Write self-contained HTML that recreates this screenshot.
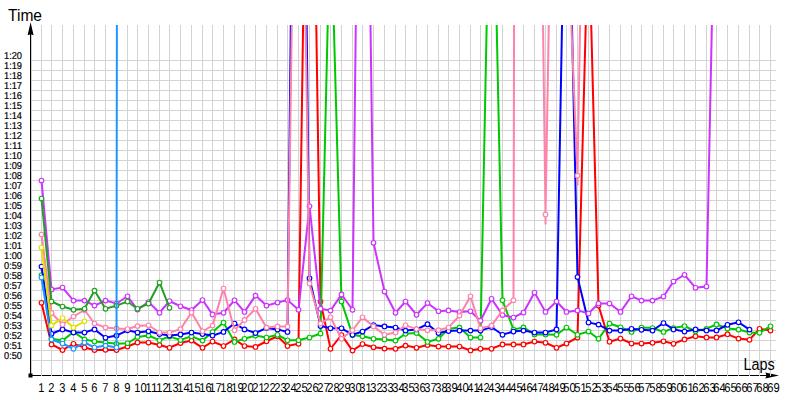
<!DOCTYPE html>
<html><head><meta charset="utf-8"><title>Lap chart</title>
<style>
html,body{margin:0;padding:0;background:#fff;}
body{width:800px;height:400px;overflow:hidden;font-family:"Liberation Sans",sans-serif;}
svg{display:block;}
svg text{font-family:"Liberation Sans",sans-serif;fill:#000;}
.xl text{text-rendering:geometricPrecision;}
.yl text{stroke:#000;stroke-width:0.2px;text-rendering:geometricPrecision;}
</style></head><body>
<svg width="800" height="400" viewBox="0 0 800 400">
<rect width="800" height="400" fill="#fff"/>
<defs><clipPath id="plot"><rect x="30" y="25" width="760" height="352"/></clipPath></defs>
<path d="M30.6 30V375.5" stroke="#000" stroke-width="1.2" fill="none"/><path d="M30 375.5H770" stroke="#000" stroke-width="1" fill="none" shape-rendering="crispEdges"/>
<path d="M30.6 22.3L33.6 35.3L30.6 34.2L27.6 35.3Z" fill="#000"/>
<path d="M779 375.5L765.3 378.5L766.6 375.5L765.3 372.5Z" fill="#000"/>
<rect x="28.5" y="373.5" width="4" height="4" fill="#000"/>
<path d="M41.50 25V376M51.50 25V376M62.50 25V376M73.50 25V376M84.50 25V376M94.50 25V376M105.50 25V376M116.50 25V376M127.50 25V376M137.50 25V376M148.50 25V376M159.50 25V376M169.50 25V376M180.50 25V376M191.50 25V376M202.50 25V376M212.50 25V376M223.50 25V376M234.50 25V376M244.50 25V376M255.50 25V376M266.50 25V376M277.50 25V376M287.50 25V376M298.50 25V376M309.50 25V376M320.50 25V376M330.50 25V376M341.50 25V376M352.50 25V376M362.50 25V376M373.50 25V376M384.50 25V376M395.50 25V376M405.50 25V376M416.50 25V376M427.50 25V376M438.50 25V376M448.50 25V376M459.50 25V376M470.50 25V376M480.50 25V376M491.50 25V376M502.50 25V376M513.50 25V376M523.50 25V376M534.50 25V376M545.50 25V376M556.50 25V376M566.50 25V376M577.50 25V376M588.50 25V376M598.50 25V376M609.50 25V376M620.50 25V376M631.50 25V376M641.50 25V376M652.50 25V376M663.50 25V376M673.50 25V376M684.50 25V376M695.50 25V376M706.50 25V376M716.50 25V376M727.50 25V376M738.50 25V376M749.50 25V376M759.50 25V376M770.50 25V376M31 60.5H776M31 70.5H776M31 80.5H776M31 90.5H776M31 100.5H776M31 110.5H776M31 120.5H776M31 130.5H776M31 140.5H776M31 150.5H776M31 160.5H776M31 170.5H776M31 180.5H776M31 190.5H776M31 200.5H776M31 210.5H776M31 220.5H776M31 230.5H776M31 240.5H776M31 250.5H776M31 260.5H776M31 270.5H776M31 280.5H776M31 290.5H776M31 300.5H776M31 310.5H776M31 320.5H776M31 330.5H776M31 340.5H776M31 350.5H776M31 360.5H776" stroke="#d3d3d3" stroke-width="1" fill="none" shape-rendering="crispEdges"/>
<g clip-path="url(#plot)" fill="none" stroke-linejoin="miter" stroke-miterlimit="10" stroke-linecap="butt">
<polyline points="41.50,302.75 51.50,344.40 62.50,350.00 73.50,343.75 84.50,347.50 94.50,350.00 105.50,349.75 116.50,350.00 127.50,346.50 137.50,342.50 148.50,342.50 159.50,345.00 169.50,347.75 180.50,343.00 191.50,340.60 202.50,347.75 212.50,341.50 223.50,346.00 234.50,339.40 244.50,346.00 255.50,346.90 266.50,341.25 277.50,336.25 287.50,346.00 298.50,343.75 309.50,-420.00 320.50,301.50 330.50,348.75 341.50,335.00 352.50,350.60 362.50,344.00 373.50,347.25 384.50,348.60 395.50,348.75 405.50,345.60 416.50,347.75 427.50,345.00 438.50,346.50 448.50,346.50 459.50,346.50 470.50,350.40 480.50,348.75 491.50,348.75 502.50,344.40 513.50,344.40 523.50,344.40 534.50,341.50 545.50,342.75 556.50,347.75 566.50,343.50 577.50,337.50 588.50,-80.00 598.50,305.60 609.50,341.70 620.50,338.50 631.50,343.50 641.50,343.50 652.50,342.75 663.50,341.25 673.50,343.75 684.50,339.40 695.50,336.25 706.50,337.40 716.50,337.40 727.50,334.20 738.50,338.60 749.50,339.75 759.50,328.75 770.50,330.60" stroke="#ff0000" stroke-width="2.00"/>
<g fill="#fff" stroke="#ff0000" stroke-width="1.15"><circle cx="41.50" cy="302.75" r="2.30"/><circle cx="51.50" cy="344.40" r="2.30"/><circle cx="62.50" cy="350.00" r="2.30"/><circle cx="73.50" cy="343.75" r="2.30"/><circle cx="84.50" cy="347.50" r="2.30"/><circle cx="94.50" cy="350.00" r="2.30"/><circle cx="105.50" cy="349.75" r="2.30"/><circle cx="116.50" cy="350.00" r="2.30"/><circle cx="127.50" cy="346.50" r="2.30"/><circle cx="137.50" cy="342.50" r="2.30"/><circle cx="148.50" cy="342.50" r="2.30"/><circle cx="159.50" cy="345.00" r="2.30"/><circle cx="169.50" cy="347.75" r="2.30"/><circle cx="180.50" cy="343.00" r="2.30"/><circle cx="191.50" cy="340.60" r="2.30"/><circle cx="202.50" cy="347.75" r="2.30"/><circle cx="212.50" cy="341.50" r="2.30"/><circle cx="223.50" cy="346.00" r="2.30"/><circle cx="234.50" cy="339.40" r="2.30"/><circle cx="244.50" cy="346.00" r="2.30"/><circle cx="255.50" cy="346.90" r="2.30"/><circle cx="266.50" cy="341.25" r="2.30"/><circle cx="277.50" cy="336.25" r="2.30"/><circle cx="287.50" cy="346.00" r="2.30"/><circle cx="298.50" cy="343.75" r="2.30"/><circle cx="320.50" cy="301.50" r="2.30"/><circle cx="330.50" cy="348.75" r="2.30"/><circle cx="341.50" cy="335.00" r="2.30"/><circle cx="352.50" cy="350.60" r="2.30"/><circle cx="362.50" cy="344.00" r="2.30"/><circle cx="373.50" cy="347.25" r="2.30"/><circle cx="384.50" cy="348.60" r="2.30"/><circle cx="395.50" cy="348.75" r="2.30"/><circle cx="405.50" cy="345.60" r="2.30"/><circle cx="416.50" cy="347.75" r="2.30"/><circle cx="427.50" cy="345.00" r="2.30"/><circle cx="438.50" cy="346.50" r="2.30"/><circle cx="448.50" cy="346.50" r="2.30"/><circle cx="459.50" cy="346.50" r="2.30"/><circle cx="470.50" cy="350.40" r="2.30"/><circle cx="480.50" cy="348.75" r="2.30"/><circle cx="491.50" cy="348.75" r="2.30"/><circle cx="502.50" cy="344.40" r="2.30"/><circle cx="513.50" cy="344.40" r="2.30"/><circle cx="523.50" cy="344.40" r="2.30"/><circle cx="534.50" cy="341.50" r="2.30"/><circle cx="545.50" cy="342.75" r="2.30"/><circle cx="556.50" cy="347.75" r="2.30"/><circle cx="566.50" cy="343.50" r="2.30"/><circle cx="577.50" cy="337.50" r="2.30"/><circle cx="598.50" cy="305.60" r="2.30"/><circle cx="609.50" cy="341.70" r="2.30"/><circle cx="620.50" cy="338.50" r="2.30"/><circle cx="631.50" cy="343.50" r="2.30"/><circle cx="641.50" cy="343.50" r="2.30"/><circle cx="652.50" cy="342.75" r="2.30"/><circle cx="663.50" cy="341.25" r="2.30"/><circle cx="673.50" cy="343.75" r="2.30"/><circle cx="684.50" cy="339.40" r="2.30"/><circle cx="695.50" cy="336.25" r="2.30"/><circle cx="706.50" cy="337.40" r="2.30"/><circle cx="716.50" cy="337.40" r="2.30"/><circle cx="727.50" cy="334.20" r="2.30"/><circle cx="738.50" cy="338.60" r="2.30"/><circle cx="749.50" cy="339.75" r="2.30"/><circle cx="759.50" cy="328.75" r="2.30"/><circle cx="770.50" cy="330.60" r="2.30"/></g>
<polyline points="41.50,275.00 51.50,338.75 62.50,340.60 73.50,332.00 84.50,339.40 94.50,341.50 105.50,342.50 116.50,343.75 127.50,343.25 137.50,337.00 148.50,335.60 159.50,340.25 169.50,336.50 180.50,340.00 191.50,336.25 202.50,340.60 212.50,332.00 223.50,322.50 234.50,341.90 244.50,338.75 255.50,335.60 266.50,337.50 277.50,334.75 287.50,340.25 298.50,340.25 309.50,337.50 320.50,333.50 330.50,-95.00 341.50,301.50 352.50,335.00 362.50,336.25 373.50,338.75 384.50,339.40 395.50,340.60 405.50,333.75 416.50,333.00 427.50,341.90 438.50,338.75 448.50,328.75 459.50,327.60 470.50,337.50 480.50,337.50 491.50,-220.00 502.50,300.25 513.50,329.70 523.50,327.40 534.50,334.40 545.50,334.40 556.50,334.75 566.50,327.50 577.50,334.75 588.50,331.50 598.50,338.75 609.50,323.50 620.50,327.25 631.50,331.90 641.50,327.50 652.50,328.00 663.50,331.90 673.50,328.00 684.50,326.00 695.50,331.25 706.50,328.75 716.50,324.40 727.50,328.50 738.50,329.60 749.50,332.50 759.50,332.75 770.50,326.25" stroke="#00c800" stroke-width="2.00"/>
<g fill="#fff" stroke="#00c800" stroke-width="1.15"><circle cx="41.50" cy="275.00" r="2.30"/><circle cx="51.50" cy="338.75" r="2.30"/><circle cx="62.50" cy="340.60" r="2.30"/><circle cx="73.50" cy="332.00" r="2.30"/><circle cx="84.50" cy="339.40" r="2.30"/><circle cx="94.50" cy="341.50" r="2.30"/><circle cx="105.50" cy="342.50" r="2.30"/><circle cx="116.50" cy="343.75" r="2.30"/><circle cx="127.50" cy="343.25" r="2.30"/><circle cx="137.50" cy="337.00" r="2.30"/><circle cx="148.50" cy="335.60" r="2.30"/><circle cx="159.50" cy="340.25" r="2.30"/><circle cx="169.50" cy="336.50" r="2.30"/><circle cx="180.50" cy="340.00" r="2.30"/><circle cx="191.50" cy="336.25" r="2.30"/><circle cx="202.50" cy="340.60" r="2.30"/><circle cx="212.50" cy="332.00" r="2.30"/><circle cx="223.50" cy="322.50" r="2.30"/><circle cx="234.50" cy="341.90" r="2.30"/><circle cx="244.50" cy="338.75" r="2.30"/><circle cx="255.50" cy="335.60" r="2.30"/><circle cx="266.50" cy="337.50" r="2.30"/><circle cx="277.50" cy="334.75" r="2.30"/><circle cx="287.50" cy="340.25" r="2.30"/><circle cx="298.50" cy="340.25" r="2.30"/><circle cx="309.50" cy="337.50" r="2.30"/><circle cx="320.50" cy="333.50" r="2.30"/><circle cx="341.50" cy="301.50" r="2.30"/><circle cx="352.50" cy="335.00" r="2.30"/><circle cx="362.50" cy="336.25" r="2.30"/><circle cx="373.50" cy="338.75" r="2.30"/><circle cx="384.50" cy="339.40" r="2.30"/><circle cx="395.50" cy="340.60" r="2.30"/><circle cx="405.50" cy="333.75" r="2.30"/><circle cx="416.50" cy="333.00" r="2.30"/><circle cx="427.50" cy="341.90" r="2.30"/><circle cx="438.50" cy="338.75" r="2.30"/><circle cx="448.50" cy="328.75" r="2.30"/><circle cx="459.50" cy="327.60" r="2.30"/><circle cx="470.50" cy="337.50" r="2.30"/><circle cx="480.50" cy="337.50" r="2.30"/><circle cx="502.50" cy="300.25" r="2.30"/><circle cx="513.50" cy="329.70" r="2.30"/><circle cx="523.50" cy="327.40" r="2.30"/><circle cx="534.50" cy="334.40" r="2.30"/><circle cx="545.50" cy="334.40" r="2.30"/><circle cx="556.50" cy="334.75" r="2.30"/><circle cx="566.50" cy="327.50" r="2.30"/><circle cx="577.50" cy="334.75" r="2.30"/><circle cx="588.50" cy="331.50" r="2.30"/><circle cx="598.50" cy="338.75" r="2.30"/><circle cx="609.50" cy="323.50" r="2.30"/><circle cx="620.50" cy="327.25" r="2.30"/><circle cx="631.50" cy="331.90" r="2.30"/><circle cx="641.50" cy="327.50" r="2.30"/><circle cx="652.50" cy="328.00" r="2.30"/><circle cx="663.50" cy="331.90" r="2.30"/><circle cx="673.50" cy="328.00" r="2.30"/><circle cx="684.50" cy="326.00" r="2.30"/><circle cx="695.50" cy="331.25" r="2.30"/><circle cx="706.50" cy="328.75" r="2.30"/><circle cx="716.50" cy="324.40" r="2.30"/><circle cx="727.50" cy="328.50" r="2.30"/><circle cx="738.50" cy="329.60" r="2.30"/><circle cx="749.50" cy="332.50" r="2.30"/><circle cx="759.50" cy="332.75" r="2.30"/><circle cx="770.50" cy="326.25" r="2.30"/></g>
<polyline points="41.50,266.50 51.50,333.75 62.50,329.40 73.50,332.50 84.50,332.50 94.50,329.40 105.50,337.75 116.50,335.60 127.50,330.30 137.50,332.50 148.50,331.25 159.50,334.00 169.50,335.50 180.50,334.40 191.50,332.50 202.50,334.00 212.50,335.60 223.50,331.90 234.50,323.50 244.50,329.40 255.50,333.00 266.50,328.00 277.50,329.40 287.50,331.90 298.50,-700.00 309.50,278.30 320.50,326.00 330.50,328.30 341.50,328.30 352.50,334.75 362.50,331.50 373.50,325.00 384.50,326.40 395.50,327.50 405.50,330.60 416.50,329.40 427.50,324.20 438.50,333.00 448.50,331.00 459.50,330.60 470.50,330.60 480.50,330.60 491.50,327.00 502.50,334.75 513.50,331.50 523.50,330.60 534.50,332.50 545.50,332.50 556.50,329.40 566.50,-224.00 577.50,277.00 588.50,322.50 598.50,324.60 609.50,330.60 620.50,330.60 631.50,328.75 641.50,329.75 652.50,330.60 663.50,323.00 673.50,329.40 684.50,331.50 695.50,329.40 706.50,330.40 716.50,330.40 727.50,324.75 738.50,322.25 749.50,329.60" stroke="#0000ff" stroke-width="2.00"/>
<g fill="#fff" stroke="#0000ff" stroke-width="1.15"><circle cx="41.50" cy="266.50" r="2.30"/><circle cx="51.50" cy="333.75" r="2.30"/><circle cx="62.50" cy="329.40" r="2.30"/><circle cx="73.50" cy="332.50" r="2.30"/><circle cx="84.50" cy="332.50" r="2.30"/><circle cx="94.50" cy="329.40" r="2.30"/><circle cx="105.50" cy="337.75" r="2.30"/><circle cx="116.50" cy="335.60" r="2.30"/><circle cx="127.50" cy="330.30" r="2.30"/><circle cx="137.50" cy="332.50" r="2.30"/><circle cx="148.50" cy="331.25" r="2.30"/><circle cx="159.50" cy="334.00" r="2.30"/><circle cx="169.50" cy="335.50" r="2.30"/><circle cx="180.50" cy="334.40" r="2.30"/><circle cx="191.50" cy="332.50" r="2.30"/><circle cx="202.50" cy="334.00" r="2.30"/><circle cx="212.50" cy="335.60" r="2.30"/><circle cx="223.50" cy="331.90" r="2.30"/><circle cx="234.50" cy="323.50" r="2.30"/><circle cx="244.50" cy="329.40" r="2.30"/><circle cx="255.50" cy="333.00" r="2.30"/><circle cx="266.50" cy="328.00" r="2.30"/><circle cx="277.50" cy="329.40" r="2.30"/><circle cx="287.50" cy="331.90" r="2.30"/><circle cx="309.50" cy="278.30" r="2.30"/><circle cx="320.50" cy="326.00" r="2.30"/><circle cx="330.50" cy="328.30" r="2.30"/><circle cx="341.50" cy="328.30" r="2.30"/><circle cx="352.50" cy="334.75" r="2.30"/><circle cx="362.50" cy="331.50" r="2.30"/><circle cx="373.50" cy="325.00" r="2.30"/><circle cx="384.50" cy="326.40" r="2.30"/><circle cx="395.50" cy="327.50" r="2.30"/><circle cx="405.50" cy="330.60" r="2.30"/><circle cx="416.50" cy="329.40" r="2.30"/><circle cx="427.50" cy="324.20" r="2.30"/><circle cx="438.50" cy="333.00" r="2.30"/><circle cx="448.50" cy="331.00" r="2.30"/><circle cx="459.50" cy="330.60" r="2.30"/><circle cx="470.50" cy="330.60" r="2.30"/><circle cx="480.50" cy="330.60" r="2.30"/><circle cx="491.50" cy="327.00" r="2.30"/><circle cx="502.50" cy="334.75" r="2.30"/><circle cx="513.50" cy="331.50" r="2.30"/><circle cx="523.50" cy="330.60" r="2.30"/><circle cx="534.50" cy="332.50" r="2.30"/><circle cx="545.50" cy="332.50" r="2.30"/><circle cx="556.50" cy="329.40" r="2.30"/><circle cx="577.50" cy="277.00" r="2.30"/><circle cx="588.50" cy="322.50" r="2.30"/><circle cx="598.50" cy="324.60" r="2.30"/><circle cx="609.50" cy="330.60" r="2.30"/><circle cx="620.50" cy="330.60" r="2.30"/><circle cx="631.50" cy="328.75" r="2.30"/><circle cx="641.50" cy="329.75" r="2.30"/><circle cx="652.50" cy="330.60" r="2.30"/><circle cx="663.50" cy="323.00" r="2.30"/><circle cx="673.50" cy="329.40" r="2.30"/><circle cx="684.50" cy="331.50" r="2.30"/><circle cx="695.50" cy="329.40" r="2.30"/><circle cx="706.50" cy="330.40" r="2.30"/><circle cx="716.50" cy="330.40" r="2.30"/><circle cx="727.50" cy="324.75" r="2.30"/><circle cx="738.50" cy="322.25" r="2.30"/><circle cx="749.50" cy="329.60" r="2.30"/></g>
<polyline points="41.50,180.50 51.50,289.40 62.50,287.50 73.50,300.60 84.50,300.60 94.50,305.60 105.50,300.60 116.50,303.50 127.50,296.25 137.50,309.50 148.50,302.00 159.50,312.75 169.50,301.00 180.50,306.25 191.50,310.00 202.50,300.00 212.50,314.40 223.50,312.75 234.50,300.25 244.50,311.90 255.50,295.60 266.50,305.60 277.50,302.50 287.50,300.00 298.50,309.75 309.50,206.25 320.50,308.75 330.50,310.60 341.50,294.40 352.50,309.75 362.50,-559.00 373.50,242.75 384.50,291.50 395.50,312.75 405.50,301.50 416.50,314.75 427.50,303.00 438.50,311.25 448.50,310.40 459.50,312.00 470.50,311.25 480.50,320.80 491.50,298.75 502.50,315.00 513.50,317.50 523.50,312.50 534.50,292.50 545.50,311.90 556.50,301.50 566.50,311.90 577.50,310.40 588.50,313.50 598.50,303.50 609.50,303.50 620.50,311.90 631.50,296.25 641.50,300.60 652.50,300.60 663.50,296.50 673.50,281.50 684.50,274.75 695.50,287.75 706.50,286.50 716.50,-201.00" stroke="#cc33ff" stroke-width="2.00"/>
<g fill="#fff" stroke="#cc33ff" stroke-width="1.15"><circle cx="41.50" cy="180.50" r="2.30"/><circle cx="51.50" cy="289.40" r="2.30"/><circle cx="62.50" cy="287.50" r="2.30"/><circle cx="73.50" cy="300.60" r="2.30"/><circle cx="84.50" cy="300.60" r="2.30"/><circle cx="94.50" cy="305.60" r="2.30"/><circle cx="105.50" cy="300.60" r="2.30"/><circle cx="116.50" cy="303.50" r="2.30"/><circle cx="127.50" cy="296.25" r="2.30"/><circle cx="137.50" cy="309.50" r="2.30"/><circle cx="148.50" cy="302.00" r="2.30"/><circle cx="159.50" cy="312.75" r="2.30"/><circle cx="169.50" cy="301.00" r="2.30"/><circle cx="180.50" cy="306.25" r="2.30"/><circle cx="191.50" cy="310.00" r="2.30"/><circle cx="202.50" cy="300.00" r="2.30"/><circle cx="212.50" cy="314.40" r="2.30"/><circle cx="223.50" cy="312.75" r="2.30"/><circle cx="234.50" cy="300.25" r="2.30"/><circle cx="244.50" cy="311.90" r="2.30"/><circle cx="255.50" cy="295.60" r="2.30"/><circle cx="266.50" cy="305.60" r="2.30"/><circle cx="277.50" cy="302.50" r="2.30"/><circle cx="287.50" cy="300.00" r="2.30"/><circle cx="298.50" cy="309.75" r="2.30"/><circle cx="309.50" cy="206.25" r="2.30"/><circle cx="320.50" cy="308.75" r="2.30"/><circle cx="330.50" cy="310.60" r="2.30"/><circle cx="341.50" cy="294.40" r="2.30"/><circle cx="352.50" cy="309.75" r="2.30"/><circle cx="373.50" cy="242.75" r="2.30"/><circle cx="384.50" cy="291.50" r="2.30"/><circle cx="395.50" cy="312.75" r="2.30"/><circle cx="405.50" cy="301.50" r="2.30"/><circle cx="416.50" cy="314.75" r="2.30"/><circle cx="427.50" cy="303.00" r="2.30"/><circle cx="438.50" cy="311.25" r="2.30"/><circle cx="448.50" cy="310.40" r="2.30"/><circle cx="459.50" cy="312.00" r="2.30"/><circle cx="470.50" cy="311.25" r="2.30"/><circle cx="480.50" cy="320.80" r="2.30"/><circle cx="491.50" cy="298.75" r="2.30"/><circle cx="502.50" cy="315.00" r="2.30"/><circle cx="513.50" cy="317.50" r="2.30"/><circle cx="523.50" cy="312.50" r="2.30"/><circle cx="534.50" cy="292.50" r="2.30"/><circle cx="545.50" cy="311.90" r="2.30"/><circle cx="556.50" cy="301.50" r="2.30"/><circle cx="566.50" cy="311.90" r="2.30"/><circle cx="577.50" cy="310.40" r="2.30"/><circle cx="588.50" cy="313.50" r="2.30"/><circle cx="598.50" cy="303.50" r="2.30"/><circle cx="609.50" cy="303.50" r="2.30"/><circle cx="620.50" cy="311.90" r="2.30"/><circle cx="631.50" cy="296.25" r="2.30"/><circle cx="641.50" cy="300.60" r="2.30"/><circle cx="652.50" cy="300.60" r="2.30"/><circle cx="663.50" cy="296.50" r="2.30"/><circle cx="673.50" cy="281.50" r="2.30"/><circle cx="684.50" cy="274.75" r="2.30"/><circle cx="695.50" cy="287.75" r="2.30"/><circle cx="706.50" cy="286.50" r="2.30"/></g>
<polyline points="41.50,234.50 51.50,313.00 62.50,324.40 73.50,316.50 84.50,310.00 94.50,323.50 105.50,327.60 116.50,328.40 127.50,329.00 137.50,326.10 148.50,325.25 159.50,332.50 169.50,332.50 180.50,329.10 191.50,312.50 202.50,331.25 212.50,325.60 223.50,288.50 234.50,330.30 244.50,319.90 255.50,308.75 266.50,327.60 277.50,326.40 287.50,326.40 298.50,-450.00 309.50,283.40 320.50,323.60 330.50,317.25 341.50,338.75 352.50,330.30 362.50,317.25 373.50,326.40 384.50,334.75 395.50,332.50 405.50,325.25 416.50,329.10 427.50,330.30 438.50,330.10 448.50,327.50 459.50,315.60 470.50,296.25 480.50,328.25 491.50,325.60 502.50,310.40 513.50,300.25 523.50,-4600.00 534.50,-632.00 545.50,214.40 556.50,-420.00 566.50,-93.00 577.50,175.60 588.50,-468.00" stroke="#ff82aa" stroke-width="2.00"/>
<line x1="545.50" y1="214.40" x2="545.48" y2="224.40" stroke="#ff82aa" stroke-width="2.00"/>
<line x1="577.50" y1="175.60" x2="577.62" y2="185.60" stroke="#ff82aa" stroke-width="2.00"/>
<g fill="#fff" stroke="#ff82aa" stroke-width="1.15"><circle cx="41.50" cy="234.50" r="2.30"/><circle cx="51.50" cy="313.00" r="2.30"/><circle cx="62.50" cy="324.40" r="2.30"/><circle cx="73.50" cy="316.50" r="2.30"/><circle cx="84.50" cy="310.00" r="2.30"/><circle cx="94.50" cy="323.50" r="2.30"/><circle cx="105.50" cy="327.60" r="2.30"/><circle cx="116.50" cy="328.40" r="2.30"/><circle cx="127.50" cy="329.00" r="2.30"/><circle cx="137.50" cy="326.10" r="2.30"/><circle cx="148.50" cy="325.25" r="2.30"/><circle cx="159.50" cy="332.50" r="2.30"/><circle cx="169.50" cy="332.50" r="2.30"/><circle cx="180.50" cy="329.10" r="2.30"/><circle cx="191.50" cy="312.50" r="2.30"/><circle cx="202.50" cy="331.25" r="2.30"/><circle cx="212.50" cy="325.60" r="2.30"/><circle cx="223.50" cy="288.50" r="2.30"/><circle cx="234.50" cy="330.30" r="2.30"/><circle cx="244.50" cy="319.90" r="2.30"/><circle cx="255.50" cy="308.75" r="2.30"/><circle cx="266.50" cy="327.60" r="2.30"/><circle cx="277.50" cy="326.40" r="2.30"/><circle cx="287.50" cy="326.40" r="2.30"/><circle cx="309.50" cy="283.40" r="2.30"/><circle cx="320.50" cy="323.60" r="2.30"/><circle cx="330.50" cy="317.25" r="2.30"/><circle cx="341.50" cy="338.75" r="2.30"/><circle cx="352.50" cy="330.30" r="2.30"/><circle cx="362.50" cy="317.25" r="2.30"/><circle cx="373.50" cy="326.40" r="2.30"/><circle cx="384.50" cy="334.75" r="2.30"/><circle cx="395.50" cy="332.50" r="2.30"/><circle cx="405.50" cy="325.25" r="2.30"/><circle cx="416.50" cy="329.10" r="2.30"/><circle cx="427.50" cy="330.30" r="2.30"/><circle cx="438.50" cy="330.10" r="2.30"/><circle cx="448.50" cy="327.50" r="2.30"/><circle cx="459.50" cy="315.60" r="2.30"/><circle cx="470.50" cy="296.25" r="2.30"/><circle cx="480.50" cy="328.25" r="2.30"/><circle cx="491.50" cy="325.60" r="2.30"/><circle cx="502.50" cy="310.40" r="2.30"/><circle cx="513.50" cy="300.25" r="2.30"/><circle cx="545.50" cy="214.40" r="2.30"/><circle cx="577.50" cy="175.60" r="2.30"/></g>
<polyline points="41.50,198.50 51.50,301.50 62.50,306.50 73.50,309.75 84.50,308.75 94.50,290.60 105.50,308.75 116.50,305.60 127.50,301.50 137.50,308.75 148.50,303.50 159.50,282.50 169.50,307.75" stroke="#20a020" stroke-width="2.00"/>
<g fill="#fff" stroke="#20a020" stroke-width="1.15"><circle cx="41.50" cy="198.50" r="2.30"/><circle cx="51.50" cy="301.50" r="2.30"/><circle cx="62.50" cy="306.50" r="2.30"/><circle cx="73.50" cy="309.75" r="2.30"/><circle cx="84.50" cy="308.75" r="2.30"/><circle cx="94.50" cy="290.60" r="2.30"/><circle cx="105.50" cy="308.75" r="2.30"/><circle cx="116.50" cy="305.60" r="2.30"/><circle cx="127.50" cy="301.50" r="2.30"/><circle cx="137.50" cy="308.75" r="2.30"/><circle cx="148.50" cy="303.50" r="2.30"/><circle cx="159.50" cy="282.50" r="2.30"/><circle cx="169.50" cy="307.75" r="2.30"/></g>
<polyline points="41.50,277.50 51.50,339.40 62.50,343.50 73.50,348.75 84.50,342.50 94.50,347.50 105.50,345.60 116.50,347.50 127.50,-9000.00" stroke="#1e96ff" stroke-width="2.00"/>
<g fill="#fff" stroke="#1e96ff" stroke-width="1.15"><circle cx="41.50" cy="277.50" r="2.30"/><circle cx="51.50" cy="339.40" r="2.30"/><circle cx="62.50" cy="343.50" r="2.30"/><circle cx="73.50" cy="348.75" r="2.30"/><circle cx="84.50" cy="342.50" r="2.30"/><circle cx="94.50" cy="347.50" r="2.30"/><circle cx="105.50" cy="345.60" r="2.30"/><circle cx="116.50" cy="347.50" r="2.30"/></g>
<polyline points="41.50,247.50 51.50,325.40 62.50,318.00 73.50,327.60 84.50,321.25" stroke="#e1e100" stroke-width="2.00"/>
<g fill="#fff" stroke="#e1e100" stroke-width="1.15"><circle cx="41.50" cy="247.50" r="2.30"/><circle cx="51.50" cy="325.40" r="2.30"/><circle cx="62.50" cy="318.00" r="2.30"/><circle cx="73.50" cy="327.60" r="2.30"/><circle cx="84.50" cy="321.25" r="2.30"/></g>
</g>
<text x="8" y="20.6" font-size="16" textLength="34" lengthAdjust="spacingAndGlyphs">Time</text>
<text x="743.6" y="369.8" font-size="16" textLength="31.2" lengthAdjust="spacingAndGlyphs">Laps</text>
<g class="yl" font-size="10"><text x="4" y="359" textLength="18" lengthAdjust="spacingAndGlyphs">0:50</text><text x="4" y="349" textLength="18" lengthAdjust="spacingAndGlyphs">0:51</text><text x="4" y="339" textLength="18" lengthAdjust="spacingAndGlyphs">0:52</text><text x="4" y="329" textLength="18" lengthAdjust="spacingAndGlyphs">0:53</text><text x="4" y="319" textLength="18" lengthAdjust="spacingAndGlyphs">0:54</text><text x="4" y="309" textLength="18" lengthAdjust="spacingAndGlyphs">0:55</text><text x="4" y="299" textLength="18" lengthAdjust="spacingAndGlyphs">0:56</text><text x="4" y="289" textLength="18" lengthAdjust="spacingAndGlyphs">0:57</text><text x="4" y="279" textLength="18" lengthAdjust="spacingAndGlyphs">0:58</text><text x="4" y="269" textLength="18" lengthAdjust="spacingAndGlyphs">0:59</text><text x="4" y="259" textLength="18" lengthAdjust="spacingAndGlyphs">1:00</text><text x="4" y="249" textLength="18" lengthAdjust="spacingAndGlyphs">1:01</text><text x="4" y="239" textLength="18" lengthAdjust="spacingAndGlyphs">1:02</text><text x="4" y="229" textLength="18" lengthAdjust="spacingAndGlyphs">1:03</text><text x="4" y="219" textLength="18" lengthAdjust="spacingAndGlyphs">1:04</text><text x="4" y="209" textLength="18" lengthAdjust="spacingAndGlyphs">1:05</text><text x="4" y="199" textLength="18" lengthAdjust="spacingAndGlyphs">1:06</text><text x="4" y="189" textLength="18" lengthAdjust="spacingAndGlyphs">1:07</text><text x="4" y="179" textLength="18" lengthAdjust="spacingAndGlyphs">1:08</text><text x="4" y="169" textLength="18" lengthAdjust="spacingAndGlyphs">1:09</text><text x="4" y="159" textLength="18" lengthAdjust="spacingAndGlyphs">1:10</text><text x="4" y="149" textLength="18" lengthAdjust="spacingAndGlyphs">1:11</text><text x="4" y="139" textLength="18" lengthAdjust="spacingAndGlyphs">1:12</text><text x="4" y="129" textLength="18" lengthAdjust="spacingAndGlyphs">1:13</text><text x="4" y="119" textLength="18" lengthAdjust="spacingAndGlyphs">1:14</text><text x="4" y="109" textLength="18" lengthAdjust="spacingAndGlyphs">1:15</text><text x="4" y="99" textLength="18" lengthAdjust="spacingAndGlyphs">1:16</text><text x="4" y="89" textLength="18" lengthAdjust="spacingAndGlyphs">1:17</text><text x="4" y="79" textLength="18" lengthAdjust="spacingAndGlyphs">1:18</text><text x="4" y="69" textLength="18" lengthAdjust="spacingAndGlyphs">1:19</text><text x="4" y="59" textLength="18" lengthAdjust="spacingAndGlyphs">1:20</text></g>
<g class="xl" font-size="12.9"><text x="38.30" y="392" textLength="6.2" lengthAdjust="spacingAndGlyphs">1</text><text x="48.30" y="392" textLength="6.2" lengthAdjust="spacingAndGlyphs">2</text><text x="59.30" y="392" textLength="6.2" lengthAdjust="spacingAndGlyphs">3</text><text x="70.30" y="392" textLength="6.2" lengthAdjust="spacingAndGlyphs">4</text><text x="81.30" y="392" textLength="6.2" lengthAdjust="spacingAndGlyphs">5</text><text x="91.30" y="392" textLength="6.2" lengthAdjust="spacingAndGlyphs">6</text><text x="102.30" y="392" textLength="6.2" lengthAdjust="spacingAndGlyphs">7</text><text x="113.30" y="392" textLength="6.2" lengthAdjust="spacingAndGlyphs">8</text><text x="124.30" y="392" textLength="6.2" lengthAdjust="spacingAndGlyphs">9</text><text x="134.30" y="392" textLength="12.4" lengthAdjust="spacingAndGlyphs">10</text><text x="145.30" y="392" textLength="12.4" lengthAdjust="spacingAndGlyphs">11</text><text x="156.30" y="392" textLength="12.4" lengthAdjust="spacingAndGlyphs">12</text><text x="166.30" y="392" textLength="12.4" lengthAdjust="spacingAndGlyphs">13</text><text x="177.30" y="392" textLength="12.4" lengthAdjust="spacingAndGlyphs">14</text><text x="188.30" y="392" textLength="12.4" lengthAdjust="spacingAndGlyphs">15</text><text x="199.30" y="392" textLength="12.4" lengthAdjust="spacingAndGlyphs">16</text><text x="209.30" y="392" textLength="12.4" lengthAdjust="spacingAndGlyphs">17</text><text x="220.30" y="392" textLength="12.4" lengthAdjust="spacingAndGlyphs">18</text><text x="231.30" y="392" textLength="12.4" lengthAdjust="spacingAndGlyphs">19</text><text x="241.30" y="392" textLength="12.4" lengthAdjust="spacingAndGlyphs">20</text><text x="252.30" y="392" textLength="12.4" lengthAdjust="spacingAndGlyphs">21</text><text x="263.30" y="392" textLength="12.4" lengthAdjust="spacingAndGlyphs">22</text><text x="274.30" y="392" textLength="12.4" lengthAdjust="spacingAndGlyphs">23</text><text x="284.30" y="392" textLength="12.4" lengthAdjust="spacingAndGlyphs">24</text><text x="295.30" y="392" textLength="12.4" lengthAdjust="spacingAndGlyphs">25</text><text x="306.30" y="392" textLength="12.4" lengthAdjust="spacingAndGlyphs">26</text><text x="317.30" y="392" textLength="12.4" lengthAdjust="spacingAndGlyphs">27</text><text x="327.30" y="392" textLength="12.4" lengthAdjust="spacingAndGlyphs">28</text><text x="338.30" y="392" textLength="12.4" lengthAdjust="spacingAndGlyphs">29</text><text x="349.30" y="392" textLength="12.4" lengthAdjust="spacingAndGlyphs">30</text><text x="359.30" y="392" textLength="12.4" lengthAdjust="spacingAndGlyphs">31</text><text x="370.30" y="392" textLength="12.4" lengthAdjust="spacingAndGlyphs">32</text><text x="381.30" y="392" textLength="12.4" lengthAdjust="spacingAndGlyphs">33</text><text x="392.30" y="392" textLength="12.4" lengthAdjust="spacingAndGlyphs">34</text><text x="402.30" y="392" textLength="12.4" lengthAdjust="spacingAndGlyphs">35</text><text x="413.30" y="392" textLength="12.4" lengthAdjust="spacingAndGlyphs">36</text><text x="424.30" y="392" textLength="12.4" lengthAdjust="spacingAndGlyphs">37</text><text x="435.30" y="392" textLength="12.4" lengthAdjust="spacingAndGlyphs">38</text><text x="445.30" y="392" textLength="12.4" lengthAdjust="spacingAndGlyphs">39</text><text x="456.30" y="392" textLength="12.4" lengthAdjust="spacingAndGlyphs">40</text><text x="467.30" y="392" textLength="12.4" lengthAdjust="spacingAndGlyphs">41</text><text x="477.30" y="392" textLength="12.4" lengthAdjust="spacingAndGlyphs">42</text><text x="488.30" y="392" textLength="12.4" lengthAdjust="spacingAndGlyphs">43</text><text x="499.30" y="392" textLength="12.4" lengthAdjust="spacingAndGlyphs">44</text><text x="510.30" y="392" textLength="12.4" lengthAdjust="spacingAndGlyphs">45</text><text x="520.30" y="392" textLength="12.4" lengthAdjust="spacingAndGlyphs">46</text><text x="531.30" y="392" textLength="12.4" lengthAdjust="spacingAndGlyphs">47</text><text x="542.30" y="392" textLength="12.4" lengthAdjust="spacingAndGlyphs">48</text><text x="553.30" y="392" textLength="12.4" lengthAdjust="spacingAndGlyphs">49</text><text x="563.30" y="392" textLength="12.4" lengthAdjust="spacingAndGlyphs">50</text><text x="574.30" y="392" textLength="12.4" lengthAdjust="spacingAndGlyphs">51</text><text x="585.30" y="392" textLength="12.4" lengthAdjust="spacingAndGlyphs">52</text><text x="595.30" y="392" textLength="12.4" lengthAdjust="spacingAndGlyphs">53</text><text x="606.30" y="392" textLength="12.4" lengthAdjust="spacingAndGlyphs">54</text><text x="617.30" y="392" textLength="12.4" lengthAdjust="spacingAndGlyphs">55</text><text x="628.30" y="392" textLength="12.4" lengthAdjust="spacingAndGlyphs">56</text><text x="638.30" y="392" textLength="12.4" lengthAdjust="spacingAndGlyphs">57</text><text x="649.30" y="392" textLength="12.4" lengthAdjust="spacingAndGlyphs">58</text><text x="660.30" y="392" textLength="12.4" lengthAdjust="spacingAndGlyphs">59</text><text x="670.30" y="392" textLength="12.4" lengthAdjust="spacingAndGlyphs">60</text><text x="681.30" y="392" textLength="12.4" lengthAdjust="spacingAndGlyphs">61</text><text x="692.30" y="392" textLength="12.4" lengthAdjust="spacingAndGlyphs">62</text><text x="703.30" y="392" textLength="12.4" lengthAdjust="spacingAndGlyphs">63</text><text x="713.30" y="392" textLength="12.4" lengthAdjust="spacingAndGlyphs">64</text><text x="724.30" y="392" textLength="12.4" lengthAdjust="spacingAndGlyphs">65</text><text x="735.30" y="392" textLength="12.4" lengthAdjust="spacingAndGlyphs">66</text><text x="746.30" y="392" textLength="12.4" lengthAdjust="spacingAndGlyphs">67</text><text x="756.30" y="392" textLength="12.4" lengthAdjust="spacingAndGlyphs">68</text><text x="767.30" y="392" textLength="12.4" lengthAdjust="spacingAndGlyphs">69</text></g>
</svg>
</body></html>
